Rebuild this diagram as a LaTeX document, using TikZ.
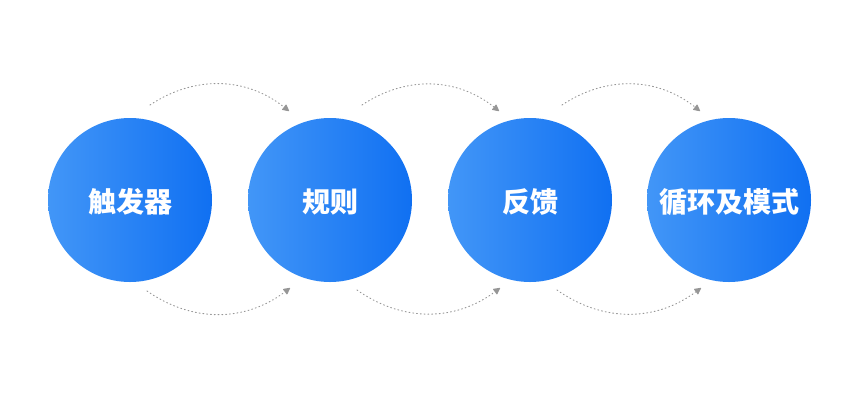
\documentclass[tikz,border=0pt]{standalone}
\usepackage{fontspec}
\newfontfamily\cjk{Noto Sans CJK SC}
\usetikzlibrary{arrows.meta}
\definecolor{blueL}{RGB}{66,150,247}
\definecolor{blueR}{RGB}{16,112,242}
\definecolor{arcgray}{RGB}{150,150,150}
\tikzset{
  ball/.style={circle, minimum size=164pt, inner sep=0pt, shading=axis, left color=blueL, right color=blueR, shading angle=90},
  balltext/.style={text=white, font=\cjk\bfseries\fontsize{28}{30}\selectfont},
  flow/.style={arcgray, line width=0.9pt, dash pattern=on 1pt off 2.8pt, line cap=round,
    -{Triangle[length=7pt,width=7pt,round]}},
}
\begin{document}
\begin{tikzpicture}[x=1pt,y=-1pt]
\useasboundingbox (0,0) rectangle (860,400);
\fill[white] (0,0) rectangle (860,400);
\node[ball] (c1) at (130,200) {};
\node[ball] (c2) at (330,200) {};
\node[ball] (c3) at (530,200) {};
\node[ball] (c4) at (729,200) {};
\node[balltext] (l1) at ([yshift=-2pt]c1.center) {触发器};
\node[balltext] (l2) at ([yshift=-2pt]c2.center) {规则};
\node[balltext] (l3) at ([yshift=-2pt]c3.center) {反馈};
\node[balltext] (l4) at ([yshift=-2pt]c4.center) {循环及模式};
% arc end points
\coordinate (t1s) at (150,105); \coordinate (t1e) at (289,111);
\coordinate (t2s) at (362,105); \coordinate (t2e) at (499,111);
\coordinate (t3s) at (562,105); \coordinate (t3e) at (700,111);
\coordinate (b1s) at (147,291); \coordinate (b1e) at (290,288);
\coordinate (b2s) at (357,290); \coordinate (b2e) at (500,288);
\coordinate (b3s) at (557,290); \coordinate (b3e) at (701,288);
\draw[flow] (t1s) to[bend left=36] (t1e);
\draw[flow] (t2s) to[bend left=36] (t2e);
\draw[flow] (t3s) to[bend left=36] (t3e);
\draw[flow] (b1s) to[bend right=36] (b1e);
\draw[flow] (b2s) to[bend right=36] (b2e);
\draw[flow] (b3s) to[bend right=36] (b3e);
\end{tikzpicture}
\end{document}
